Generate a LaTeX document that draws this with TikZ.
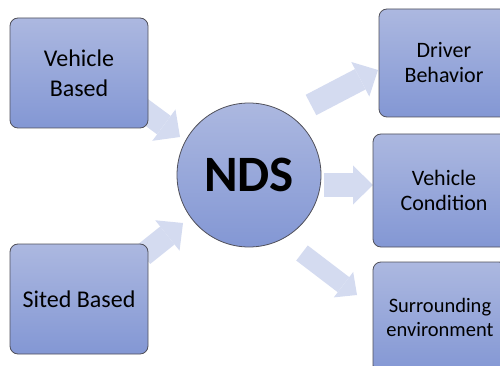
\documentclass[tikz,border=0pt]{standalone}
\usepackage{fontspec}
\setmainfont{Carlito}
\usetikzlibrary{arrows.meta,backgrounds}

\definecolor{boxtop}{RGB}{172,184,224}
\definecolor{boxbot}{RGB}{131,151,212}
\definecolor{boxline}{RGB}{80,80,90}
\definecolor{flowfill}{RGB}{212,219,240}

\tikzset{
  topic/.style={rectangle, rounded corners=8pt, draw=boxline, line width=0.8pt,
    top color=boxtop, bottom color=boxbot, align=center, inner sep=0pt},
  hub/.style={circle, draw=boxline, line width=0.8pt, top color=boxtop,
    bottom color=boxbot, minimum size=144pt, inner sep=0pt,
    font=\fontsize{51}{53}\selectfont\bfseries},
  flow/.style={draw=flowfill, line width=23pt,
    -{Triangle[length=20pt,width=39pt,line width=0pt]}}
}

\begin{document}
\begin{tikzpicture}[x=1pt,y=-1pt]
  \useasboundingbox (0,0) rectangle (500,366);

  % sources
  \node[topic, minimum width=138pt, minimum height=110pt,
    font=\fontsize{24}{30}\selectfont] (vb) at (79,73) {Vehicle\\Based};
  \node[topic, minimum width=138pt, minimum height=110pt,
    font=\fontsize{24}{30}\selectfont] (sb) at (79,299) {Sited Based};

  \node[hub] (nds) at (249,175) {NDS};

  % outcomes
  \node[topic, minimum width=130pt, minimum height=108pt,
    font=\fontsize{22}{25}\selectfont] (db) at (444,63) {Driver\\Behavior};
  \node[topic, minimum width=142pt, minimum height=113pt,
    font=\fontsize{22}{25}\selectfont] (vc) at (444,190.5) {Vehicle\\Condition};
  \node[topic, minimum width=134pt, minimum height=111pt,
    font=\fontsize{20.5}{24}\selectfont] (se) at (440,317.5) {Surrounding\\environment};

  \coordinate (vbout) at (138,106);
  \coordinate (vbin)  at (180,137);
  \coordinate (sbout) at (143,255);
  \coordinate (sbin)  at (183,223);
  \coordinate (dbout) at (311,105);
  \coordinate (dbin)  at (378,70);
  \coordinate (vcout) at (324,185);
  \coordinate (vcin)  at (373,185);
  \coordinate (seout) at (302,253);
  \coordinate (sein)  at (357,295);

  \begin{scope}[on background layer]
    \draw[flow] (vbout) -- (vbin);
    \draw[flow] (sbout) -- (sbin);
    \draw[flow] (dbout) -- (dbin);
    \draw[flow] (vcout) -- (vcin);
    \draw[flow, line width=19pt,
      -{Triangle[length=17pt,width=32pt,line width=0pt]}] (seout) -- (sein);
  \end{scope}
\end{tikzpicture}
\end{document}
